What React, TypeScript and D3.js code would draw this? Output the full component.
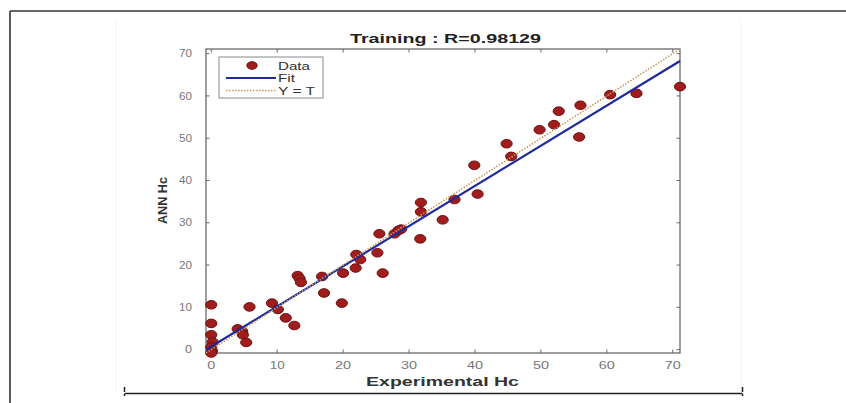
import React from "react";
import * as d3 from "d3";

// ---- data ----
const targets: number[] = [
  0, 0, 0, 0.2, 0, 0.1, 0, 4.0, 4.7, 4.8, 5.3, 5.8, 9.2, 10.1, 11.3, 12.6, 13.1, 13.4, 13.6,
  16.8, 17.1, 19.8, 20.0, 21.9, 22.0, 22.6, 25.2, 25.5, 26.0, 27.8, 28.4, 28.8, 31.7, 31.8,
  31.8, 35.1, 36.9, 39.9, 40.4, 44.8, 45.5, 49.8, 52.0, 52.7, 55.8, 56.0, 60.5, 64.5, 71.1,
];
const outputs: number[] = [
  10.6, 6.2, 3.5, 1.8, 0.6, -0.3, -0.8, 4.9, 4.3, 3.5, 1.7, 10.1, 11.0, 9.5, 7.5, 5.7, 17.5,
  16.8, 15.9, 17.3, 13.4, 11.0, 18.1, 19.3, 22.5, 21.3, 22.9, 27.4, 18.1, 27.4, 28.2, 28.5,
  26.2, 32.6, 34.8, 30.7, 35.5, 43.6, 36.8, 48.7, 45.7, 52.0, 53.2, 56.4, 50.3, 57.8, 60.3,
  60.6, 62.2,
];
const tickValues: number[] = [0, 10, 20, 30, 40, 50, 60, 70];
const fitSlope = 0.95;
const fitIntercept = 0.72;
const titleText = "Training : R=0.98129";
const xLabel = "Experimental Hc";
const yLabel = "ANN Hc";
const legendLabels: string[] = ["Data", "Fit", "Y = T"];

const W = 846;
const H = 403;
const left = 206, right = 680, top = 49, bottom = 353;
const FONT = "'Liberation Sans', Arial, Helvetica, sans-serif";
const DATA_FILL = "#a11d1d";
const DATA_EDGE = "#6e1010";
const FIT_COLOR = "#1e2a9c";
const YT_COLOR = "#c89a62";
const AXIS_COLOR = "#6a6a6a";
const TICK_TEXT = "#777";

export default function App() {
  const lo = Math.min(d3.min(targets)!, d3.min(outputs)!);
  const hi = Math.max(d3.max(targets)!, d3.max(outputs)!);
  const x = d3.scaleLinear().domain([lo, hi]).range([left, right]);
  const y = d3.scaleLinear().domain([lo, hi]).range([bottom, top]);
  const fitLine = d3
    .line<number>()
    .x((v) => x(v))
    .y((v) => y(fitSlope * v + fitIntercept));
  const ytLine = d3
    .line<number>()
    .x((v) => x(v))
    .y((v) => y(v));

  const tickLen = 3.5;
  const xTickWidths = [8, 15, 16, 16, 16, 16, 16, 16];
  const yTickWidths = [7, 13, 13, 13, 13, 13, 13, 13];

  return (
    <svg
      width={W}
      height={H}
      style={{ position: "absolute", left: 0, top: 0, display: "block", background: "#fff" }}
    >
      <rect x={0} y={0} width={W} height={H} fill="#fff" />
      {/* outer frame */}
      <line x1={10} y1={11} x2={10} y2={H} stroke="#333" strokeWidth={1.6} />
      <line x1={10} y1={11} x2={W} y2={11} stroke="#333" strokeWidth={1.6} />
      <line x1={116} y1={20} x2={116} y2={392} stroke="#f4f4f4" strokeWidth={1} />
      <line x1={741} y1={20} x2={741} y2={392} stroke="#f5f5f5" strokeWidth={1} />
      <line x1={125} y1={393.5} x2={742} y2={393.5} stroke="#222" strokeWidth={1.5} />
      <line x1={124.5} y1={387} x2={124.5} y2={396} stroke="#222" strokeWidth={1.5} strokeDasharray="5 1.5" />
      <line x1={742.5} y1={387} x2={742.5} y2={396} stroke="#222" strokeWidth={1.5} strokeDasharray="5 1.5" />

      {/* title */}
      <text
        x={445.5}
        y={43}
        textAnchor="middle"
        fontFamily={FONT}
        fontWeight="bold"
        fontSize={13}
        fill="#222"
        textLength={191}
        lengthAdjust="spacingAndGlyphs"
      >
        {titleText}
      </text>

      {/* axes box */}
      <rect x={left} y={top} width={right - left} height={bottom - top} fill="#fff" stroke={AXIS_COLOR} strokeWidth={1.3} />
      {tickValues.map((t, i) => (
        <g key={"t" + t}>
          <line x1={x(t)} y1={bottom} x2={x(t)} y2={bottom - tickLen} stroke={AXIS_COLOR} strokeWidth={1} />
          <line x1={x(t)} y1={top} x2={x(t)} y2={top + tickLen} stroke={AXIS_COLOR} strokeWidth={1} />
          <line x1={left} y1={y(t)} x2={left + tickLen} y2={y(t)} stroke={AXIS_COLOR} strokeWidth={1} />
          <line x1={right} y1={y(t)} x2={right - tickLen} y2={y(t)} stroke={AXIS_COLOR} strokeWidth={1} />
          <text
            x={x(t)}
            y={369}
            textAnchor="middle"
            fontFamily={FONT}
            fontSize={10}
            fill={TICK_TEXT}
            textLength={xTickWidths[i]}
            lengthAdjust="spacingAndGlyphs"
          >
            {String(t)}
          </text>
          <text
            x={192}
            y={y(t) + 3.6}
            textAnchor="end"
            fontFamily={FONT}
            fontSize={10}
            fill={TICK_TEXT}
            textLength={yTickWidths[i]}
            lengthAdjust="spacingAndGlyphs"
          >
            {String(t)}
          </text>
        </g>
      ))}

      {/* axis labels */}
      <text
        x={442.5}
        y={385.5}
        textAnchor="middle"
        fontFamily={FONT}
        fontWeight="bold"
        fontSize={12.5}
        fill="#333"
        textLength={153}
        lengthAdjust="spacingAndGlyphs"
      >
        {xLabel}
      </text>
      <text
        transform={`translate(166.5,200.5) rotate(-90)`}
        textAnchor="middle"
        fontFamily={FONT}
        fontWeight="bold"
        fontSize={12}
        fill="#333"
        textLength={47}
        lengthAdjust="spacingAndGlyphs"
      >
        {yLabel}
      </text>

      {/* data */}
      {targets.map((t, i) => (
        <ellipse
          key={"p" + i}
          cx={x(t)}
          cy={y(outputs[i])}
          rx={5.6}
          ry={4.3}
          fill={DATA_FILL}
          stroke={DATA_EDGE}
          strokeWidth={1}
        />
      ))}

      {/* fit and Y=T */}
      <path d={fitLine([lo, hi]) || ""} fill="none" stroke={FIT_COLOR} strokeWidth={2.2} />
      <path d={ytLine([lo, hi]) || ""} fill="none" stroke={YT_COLOR} strokeWidth={1.6} strokeDasharray="1.5 1.5" />

      {/* legend */}
      <rect x={219} y={57} width={104} height={41} fill="#fff" stroke="#8a8a8a" strokeWidth={1} />
      <ellipse cx={252} cy={65.5} rx={5.2} ry={3.8} fill={DATA_FILL} stroke={DATA_EDGE} strokeWidth={1} />
      <line x1={226} y1={78} x2={276} y2={78} stroke={FIT_COLOR} strokeWidth={2.2} />
      <line x1={226} y1={90.5} x2={276} y2={90.5} stroke={YT_COLOR} strokeWidth={1.5} strokeDasharray="1.5 1.5" />
      {legendLabels.map((lab, i) => (
        <text
          key={lab}
          x={278}
          y={69.5 + i * 12.5}
          fontFamily={FONT}
          fontSize={10.5}
          fill="#333"
          textLength={[32, 17, 37][i]}
          lengthAdjust="spacingAndGlyphs"
        >
          {lab}
        </text>
      ))}
    </svg>
  );
}
